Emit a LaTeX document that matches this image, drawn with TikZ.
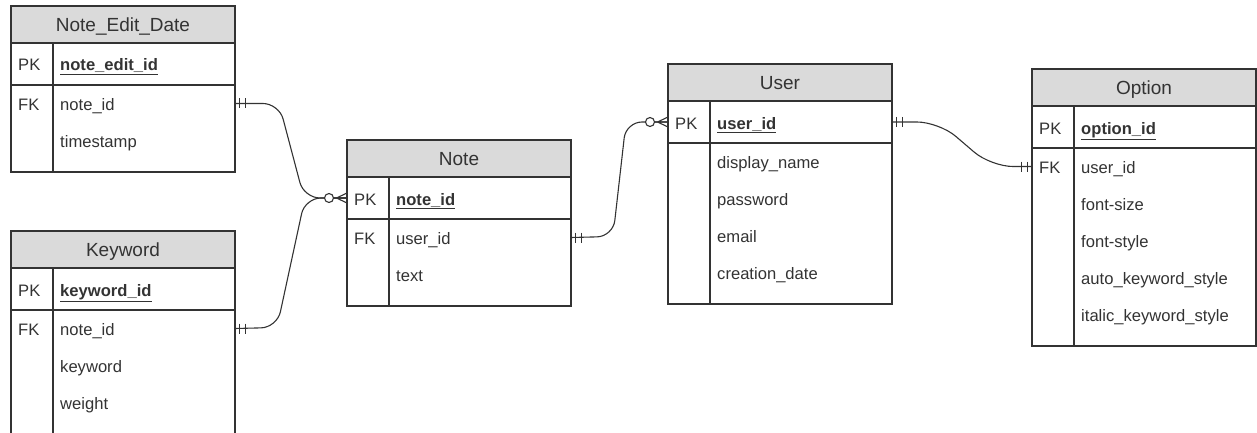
\documentclass[tikz,border=0pt]{standalone}
\usepackage{fontspec}
\setmainfont{Liberation Sans}
\usetikzlibrary{positioning}

\definecolor{erline}{HTML}{333333}
\definecolor{erhead}{HTML}{DADADA}

\tikzset{
  entity/.style={draw=erline, line width=1.1pt, minimum width=224pt, outer sep=0pt, inner sep=0pt},
  head/.style={entity, fill=erhead, minimum height=37pt, text=erline, text height=13.6pt, text depth=0pt, font=\fontsize{19}{22}\selectfont},
  keyrow/.style={entity, minimum height=42pt},
  bodyrow/.style={entity},
  tag/.style={anchor=west, inner sep=0pt, text=erline, text height=14pt, text depth=0pt, font=\fontsize{16.6}{20}\selectfont},
  field/.style={tag},
  divider/.style={draw=erline, line width=1.1pt},
  rel/.style={draw=erline, line width=1.1pt, rounded corners=16pt},
  onemark/.pic={\draw[erline, line width=1.1pt] (4.5,-5) -- (4.5,5) (10.5,-5) -- (10.5,5);},
  manymark/.pic={
    \draw[erline, line width=1.1pt] (-10.5,0) -- (0,-5) (-10.5,0) -- (0,5) (-14,0) -- (0,0);
    \draw[erline, line width=1.1pt, fill=white] (-18,0) circle (4.5);
  },
}

\begin{document}
\begin{tikzpicture}[x=1pt, y=-1pt]
  \useasboundingbox (0,0) rectangle (1257,433);

  % Note_Edit_Date
  \node[head, anchor=north west] (ned) at (11,6) {Note\_Edit\_Date};
  \node[keyrow, below=0pt of ned] (ned-pk) {};
  \node[bodyrow, minimum height=87pt, below=0pt of ned-pk] (ned-body) {};
  \draw[divider] ([xshift=42pt]ned-pk.north west) -- ([xshift=42pt]ned-body.south west);
  \node[tag] (ned-pkt) at ([xshift=7pt]ned-pk.west) {PK};
  \node[field] (ned-key) at ([xshift=49pt]ned-pk.west) {\underline{\textbf{note\_edit\_id}}};
  \node[tag] (ned-fkt) at ([xshift=7pt, yshift=-18.5pt]ned-body.north west) {FK};
  \foreach \f [count=\i] in {note\_id, timestamp}
    \node[field] (ned-f\i) at ([xshift=49pt, yshift={-18.5pt-37pt*(\i-1)}]ned-body.north west) {\f};

  % Keyword
  \node[head, anchor=north west] (kw) at (11,231) {Keyword};
  \node[keyrow, below=0pt of kw] (kw-pk) {};
  \node[bodyrow, minimum height=124pt, below=0pt of kw-pk] (kw-body) {};
  \draw[divider] ([xshift=42pt]kw-pk.north west) -- ([xshift=42pt]kw-body.south west);
  \node[tag] (kw-pkt) at ([xshift=7pt]kw-pk.west) {PK};
  \node[field] (kw-key) at ([xshift=49pt]kw-pk.west) {\underline{\textbf{keyword\_id}}};
  \node[tag] (kw-fkt) at ([xshift=7pt, yshift=-18.5pt]kw-body.north west) {FK};
  \foreach \f [count=\i] in {note\_id, keyword, weight}
    \node[field] (kw-f\i) at ([xshift=49pt, yshift={-18.5pt-37pt*(\i-1)}]kw-body.north west) {\f};

  % Note
  \node[head, anchor=north west] (note) at (347,140) {Note};
  \node[keyrow, below=0pt of note] (note-pk) {};
  \node[bodyrow, minimum height=87pt, below=0pt of note-pk] (note-body) {};
  \draw[divider] ([xshift=42pt]note-pk.north west) -- ([xshift=42pt]note-body.south west);
  \node[tag] (note-pkt) at ([xshift=7pt]note-pk.west) {PK};
  \node[field] (note-key) at ([xshift=49pt]note-pk.west) {\underline{\textbf{note\_id}}};
  \node[tag] (note-fkt) at ([xshift=7pt, yshift=-18.5pt]note-body.north west) {FK};
  \foreach \f [count=\i] in {user\_id, text}
    \node[field] (note-f\i) at ([xshift=49pt, yshift={-18.5pt-37pt*(\i-1)}]note-body.north west) {\f};

  % User
  \node[head, anchor=north west] (user) at (668,64) {User};
  \node[keyrow, below=0pt of user] (user-pk) {};
  \node[bodyrow, minimum height=161pt, below=0pt of user-pk] (user-body) {};
  \draw[divider] ([xshift=42pt]user-pk.north west) -- ([xshift=42pt]user-body.south west);
  \node[tag] (user-pkt) at ([xshift=7pt]user-pk.west) {PK};
  \node[field] (user-key) at ([xshift=49pt]user-pk.west) {\underline{\textbf{user\_id}}};
  \foreach \f [count=\i] in {display\_name, password, email, creation\_date}
    \node[field] (user-f\i) at ([xshift=49pt, yshift={-18.5pt-37pt*(\i-1)}]user-body.north west) {\f};

  % Option
  \node[head, anchor=north west] (opt) at (1032,69) {Option};
  \node[keyrow, below=0pt of opt] (opt-pk) {};
  \node[bodyrow, minimum height=198pt, below=0pt of opt-pk] (opt-body) {};
  \draw[divider] ([xshift=42pt]opt-pk.north west) -- ([xshift=42pt]opt-body.south west);
  \node[tag] (opt-pkt) at ([xshift=7pt]opt-pk.west) {PK};
  \node[field] (opt-key) at ([xshift=49pt]opt-pk.west) {\underline{\textbf{option\_id}}};
  \node[tag] (opt-fkt) at ([xshift=7pt, yshift=-18.5pt]opt-body.north west) {FK};
  \foreach \f [count=\i] in {user\_id, font-size, font-style, auto\_keyword\_style, italic\_keyword\_style}
    \node[field] (opt-f\i) at ([xshift=49pt, yshift={-18.5pt-37pt*(\i-1)}]opt-body.north west) {\f};

  % relations
  \draw[rel] (ned-body.east |- ned-f1) -- (279,103.5) -- (304,198) -- (note-pk.west);
  \draw[rel] (kw-body.east |- kw-f1) -- (277,327.5) -- (305,198) -- (note-pk.west);
  \draw[rel] (note-body.east |- note-f1) -- (613,236.5) -- (626,122) -- (user-pk.west);
  \draw[rel, rounded corners=22pt] (user-pk.east) -- (939,122) -- (991,166.5) -- (opt-body.west |- opt-f1);

  \path (ned-body.east |- ned-f1) pic {onemark};
  \path (kw-body.east |- kw-f1) pic {onemark};
  \path (note-body.east |- note-f1) pic {onemark};
  \path (user-pk.east) pic {onemark};
  \path (opt-body.west |- opt-f1) pic[xscale=-1] {onemark};
  \path (note-pk.west) pic {manymark};
  \path (user-pk.west) pic {manymark};
\end{tikzpicture}
\end{document}
